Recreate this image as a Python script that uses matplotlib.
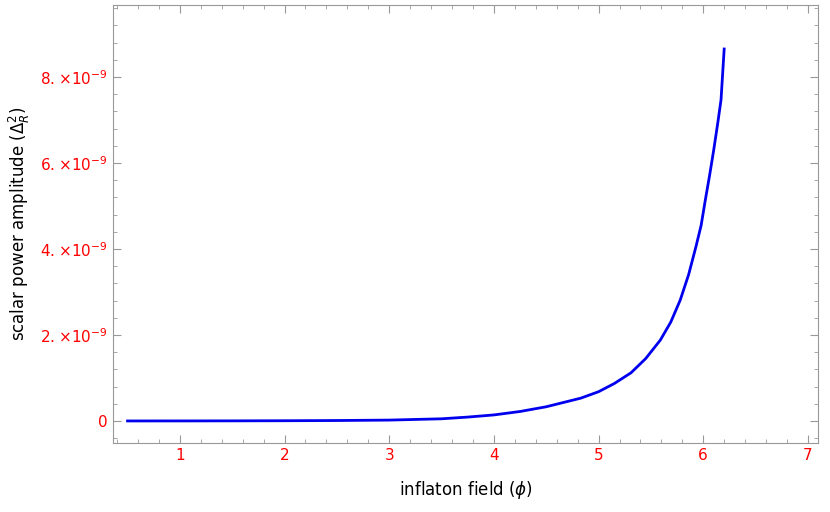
import matplotlib
matplotlib.use("Agg")
import matplotlib.pyplot as plt
from matplotlib.ticker import FixedLocator, AutoMinorLocator

phi = [0.5, 1.0, 1.5, 2.0, 2.5, 3.0, 3.25, 3.5, 3.75, 4.0, 4.25, 4.5, 4.83, 5.0,
       5.15, 5.31, 5.45, 5.59, 5.69, 5.78, 5.86, 5.93, 5.98, 6.02, 6.06, 6.10, 6.14, 6.17, 6.2]
amp = [0.0, 0.0005, 0.002, 0.005, 0.01, 0.02, 0.035, 0.05, 0.09, 0.14, 0.22, 0.33, 0.53, 0.68,
       0.87, 1.12, 1.45, 1.88, 2.3, 2.81, 3.4, 4.05, 4.55, 5.14, 5.7, 6.3, 6.95, 7.47, 8.65]  # 1e-9
yticks = [0, 2, 4, 6, 8]
ytick_labels = ["0", r"$2.\!\times\!10^{-9}$", r"$4.\!\times\!10^{-9}$", r"$6.\!\times\!10^{-9}$", r"$8.\!\times\!10^{-9}$"]
xticks = [1, 2, 3, 4, 5, 6, 7]

plt.rcParams["mathtext.fontset"] = "dejavusans"
fig = plt.figure(figsize=(8.3, 5.12), dpi=100)
ax = fig.add_axes([0.136, 0.135, 0.85, 0.855])
ax.plot(phi, amp, color="#0000ee", lw=2)
ax.set_xlim(0.36, 7.1)
ax.set_ylim(-0.51, 9.67)
ax.yaxis.set_major_locator(FixedLocator(yticks))
ax.set_yticklabels(ytick_labels)
ax.xaxis.set_major_locator(FixedLocator(xticks))
ax.set_xticklabels([str(t) for t in xticks])
ax.xaxis.set_minor_locator(AutoMinorLocator(5))
ax.yaxis.set_minor_locator(AutoMinorLocator(5))
ax.tick_params(which="both", direction="in", top=True, right=True, colors="#999999",
               labelcolor="red", labelsize=11)
ax.tick_params(which="major", length=6)
ax.tick_params(which="minor", length=3)
for s in ax.spines.values():
    s.set_color("#999999")
ax.set_xlabel(r"inflaton field ($\phi$)", fontsize=12, labelpad=12)
ax.set_ylabel(r"scalar power amplitude ($\Delta_R^2$)", fontsize=12, labelpad=6)
fig.savefig("out.png", dpi=100)
